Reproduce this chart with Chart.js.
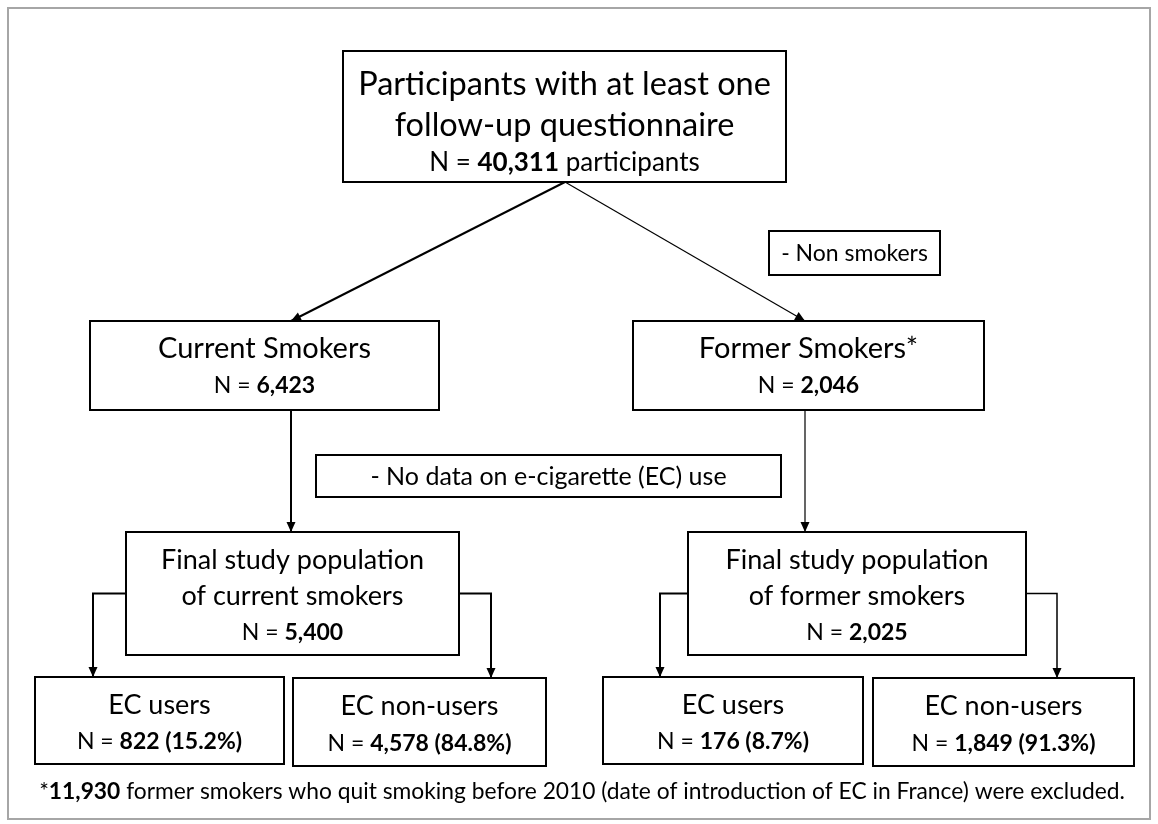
<!DOCTYPE html>
<html>
<head>
<meta charset="utf-8">
<script src="https://cdn.jsdelivr.net/npm/chart.js@4/dist/chart.umd.min.js"></script>
<style>
  html, body { margin: 0; padding: 0; background: #fff; }
  canvas { display: block; }
</style>
</head>
<body>
<canvas id="flow" width="1158" height="824"></canvas>
<script>
const FONT = 'Lato, "Open Sans", sans-serif';

// box contents
const nodeTitles = [
  ['Participants with at least one', 'follow-up questionnaire'],
  ['Current Smokers'],
  ['Former Smokers*'],
  ['Final study population', 'of current smokers'],
  ['Final study population', 'of former smokers'],
  ['EC users'],
  ['EC non-users'],
  ['EC users'],
  ['EC non-users'],
];
const nodeCounts = ['40,311', '6,423', '2,046', '5,400', '2,025', '822', '4,578', '176', '1,849'];
const nodeShares = ['', '', '', '', '', '15.2%', '84.8%', '8.7%', '91.3%'];
const countUnits = ['participants', '', '', '', '', '', '', '', ''];

const exclusionLabels = ['- Non smokers', '- No data on e-cigarette (EC) use'];
const footnoteCount = '11,930';
const footnoteText = ' former smokers who quit smoking before 2010 (date of introduction of EC in France) were excluded.';

// links between boxes: parent index, child index, kind
const linkFrom = [0, 0, 1, 2, 3, 3, 4, 4];
const linkTo = [1, 2, 3, 4, 5, 6, 7, 8];
const linkKind = ['diag', 'diag', 'down', 'down', 'elbow', 'elbow', 'elbow', 'elbow'];

// ---- layout (page units, y down) ----
const nodeBoxes = [
  [343, 786, 51, 182],
  [90, 439, 321, 410],
  [633, 984, 321, 410],
  [126, 459, 532, 655],
  [688, 1026, 532, 655],
  [35, 284, 677, 764],
  [293, 546, 678, 766],
  [603, 863, 677, 764],
  [873, 1134, 678, 766],
];
const nodeTitleSize = [32.5, 29, 29, 27, 27, 27, 27, 27, 27];
const nodeCountSize = [26, 23, 23, 23, 23, 23, 23, 23, 23];
const nodeTitleGap = [41, 0, 0, 36, 36, 0, 0, 0, 0];
const nodeTextShift = [7, 2, 2, 3, 3, 3, 3, 3, 3];
const exclusionBoxes = [[769, 940, 231, 275], [316, 781, 455, 497]];
const exclusionSize = [23, 25];
const linkLane = [291, 805, 291, 805, 93, 491, 660, 1057];
const linkWidth = [2, 1.2, 2, 1.2, 2, 2, 2, 1.5];

function linkPoints(i) {
  const p = nodeBoxes[linkFrom[i]], c = nodeBoxes[linkTo[i]], lane = linkLane[i];
  if (linkKind[i] === 'diag') return [{ x: 565, y: p[3] }, { x: lane, y: c[2] }];
  if (linkKind[i] === 'down') return [{ x: lane, y: p[3] }, { x: lane, y: c[2] }];
  const side = lane < (p[0] + p[1]) / 2 ? p[0] : p[1];
  const midY = (p[2] + p[3]) / 2;
  return [{ x: side, y: midY }, { x: lane, y: midY }, { x: lane, y: c[2] }];
}

function drawRich(ctx, parts, cx, cy, size) {
  let total = 0;
  parts.forEach((pt) => {
    ctx.font = `${pt.bold ? 'bold ' : ''}${size}px ${FONT}`;
    pt.w = ctx.measureText(pt.text).width;
    total += pt.w;
  });
  let x = cx - total / 2;
  parts.forEach((pt) => {
    ctx.font = `${pt.bold ? 'bold ' : ''}${size}px ${FONT}`;
    ctx.fillText(pt.text, x, cy);
    x += pt.w;
  });
}

const flowPlugin = {
  id: 'flow',
  beforeDatasetsDraw(chart) {
    const { ctx, scales: { x, y } } = chart;
    const px = (v) => x.getPixelForValue(v);
    const py = (v) => y.getPixelForValue(v);
    ctx.save();
    ctx.fillStyle = '#fff';
    ctx.fillRect(0, 0, chart.width, chart.height);
    ctx.strokeStyle = '#a6a6a6';
    ctx.lineWidth = 2;
    ctx.strokeRect(px(8), py(8), px(1150) - px(8), py(819) - py(8));

    ctx.strokeStyle = '#000';
    ctx.lineWidth = 2;
    [...nodeBoxes, ...exclusionBoxes].forEach((b) => {
      ctx.strokeRect(px(b[0]), py(b[2]), px(b[1]) - px(b[0]), py(b[3]) - py(b[2]));
    });
    ctx.restore();
  },
  afterDatasetsDraw(chart) {
    const { ctx, scales: { x, y } } = chart;
    const px = (v) => x.getPixelForValue(v);
    const py = (v) => y.getPixelForValue(v);
    ctx.save();
    ctx.fillStyle = '#000';

    // arrowheads at the end of every link
    chart.data.datasets.forEach((ds, i) => {
      const pts = chart.getDatasetMeta(i).data;
      const a = pts[pts.length - 2], b = pts[pts.length - 1];
      const ang = Math.atan2(b.y - a.y, b.x - a.x);
      const len = 10, half = 4.5;
      ctx.beginPath();
      ctx.moveTo(b.x, b.y);
      ctx.lineTo(b.x - len * Math.cos(ang) + half * Math.sin(ang), b.y - len * Math.sin(ang) - half * Math.cos(ang));
      ctx.lineTo(b.x - len * Math.cos(ang) - half * Math.sin(ang), b.y - len * Math.sin(ang) + half * Math.cos(ang));
      ctx.closePath();
      ctx.fill();
    });

    // box texts
    ctx.textBaseline = 'middle';
    ctx.textAlign = 'left';
    nodeBoxes.forEach((b, i) => {
      const cx = px((b[0] + b[1]) / 2);
      const titles = nodeTitles[i];
      const tSize = nodeTitleSize[i];
      const gapTitle = nodeTitleGap[i], gapCount = 37;
      const block = gapTitle * (titles.length - 1) + gapCount;
      let cy = py((b[2] + b[3]) / 2) - block / 2 + nodeTextShift[i];
      titles.forEach((t, k) => {
        drawRich(ctx, [{ text: t }], cx, cy, tSize);
        cy += k < titles.length - 1 ? gapTitle : gapCount;
      });
      const parts = [{ text: 'N = ' }, { text: nodeCounts[i], bold: true }];
      if (nodeShares[i]) parts.push({ text: ` (${nodeShares[i]})`, bold: true });
      if (countUnits[i]) parts.push({ text: ` ${countUnits[i]}` });
      drawRich(ctx, parts, cx, cy, nodeCountSize[i]);
    });

    exclusionBoxes.forEach((b, i) => {
      drawRich(ctx, [{ text: exclusionLabels[i] }], px((b[0] + b[1]) / 2), py((b[2] + b[3]) / 2) + 1, exclusionSize[i]);
    });

    drawRich(ctx, [{ text: '*' }, { text: footnoteCount, bold: true }, { text: footnoteText }], px(582), py(792), 22.8);
    ctx.restore();
  },
};

new Chart(document.getElementById('flow'), {
  type: 'scatter',
  data: {
    datasets: linkFrom.map((_, i) => ({
      data: linkPoints(i),
      showLine: true,
      borderColor: '#000',
      borderWidth: linkWidth[i],
      pointRadius: 0,
      pointHoverRadius: 0,
      tension: 0,
    })),
  },
  options: {
    responsive: false,
    animation: false,
    events: [],
    layout: { padding: 0 },
    plugins: { legend: { display: false }, tooltip: { enabled: false } },
    scales: {
      x: { type: 'linear', min: 0, max: 1158, display: false },
      y: { type: 'linear', min: 0, max: 824, reverse: true, display: false },
    },
  },
  plugins: [flowPlugin],
});
</script>
</body>
</html>
